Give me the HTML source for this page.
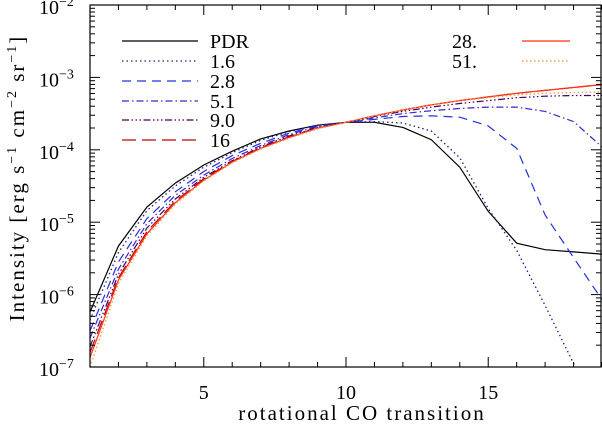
<!DOCTYPE html>
<html><head><meta charset="utf-8"><style>
html,body{margin:0;padding:0;background:#fff;width:602px;height:424px;overflow:hidden}
svg{display:block;font-family:"Liberation Serif",serif}
</style></head><body>
<svg id="chart" width="602" height="424" viewBox="0 0 602 424" xmlns="http://www.w3.org/2000/svg">
<defs><clipPath id="clip"><rect x="90" y="5" width="512" height="362"/></clipPath></defs>
<g id="marks" clip-path="url(#clip)"></g>
<g id="axes"></g>
<g id="legend"></g>
<text x="362" y="420" text-anchor="middle" font-size="21" letter-spacing="2">rotational CO transition</text>
<text transform="translate(24,178) rotate(-90)" text-anchor="middle" font-size="21" letter-spacing="2">Intensity [erg s<tspan dy="-8" font-size="14">−1</tspan><tspan dy="8"> cm</tspan><tspan dy="-8" font-size="14">−2</tspan><tspan dy="8"> sr</tspan><tspan dy="-8" font-size="14">−1</tspan><tspan dy="8">]</tspan></text>
</svg>
<script>
const transitions = [1,2,3,4,5,6,7,8,9,10,11,12,13,14,15,16,17,18,19];
const seriesNames = ["PDR","1.6","2.8","5.1","9.0","16","28.","51."];
const pdr   = [-6.24,-5.33,-4.79,-4.46,-4.21,-4.02,-3.85,-3.74,-3.66,-3.62,-3.62,-3.69,-3.86,-4.24,-4.85,-5.29,-5.38,-5.41,-5.44];
const s1_6  = [-6.35,-5.42,-4.84,-4.50,-4.24,-4.04,-3.87,-3.75,-3.66,-3.62,-3.61,-3.63,-3.74,-4.11,-4.81,-5.39,-6.15,-6.95,-7.7];
const s2_8  = [-6.50,-5.55,-4.95,-4.58,-4.30,-4.08,-3.91,-3.77,-3.67,-3.62,-3.58,-3.54,-3.53,-3.55,-3.67,-3.98,-4.90,-5.49,-6.07];
const s5_1  = [-6.60,-5.65,-5.02,-4.63,-4.35,-4.12,-3.94,-3.79,-3.68,-3.62,-3.56,-3.50,-3.46,-3.43,-3.41,-3.41,-3.47,-3.61,-3.96];
const s9_0  = [-6.72,-5.72,-5.08,-4.68,-4.38,-4.15,-3.96,-3.81,-3.69,-3.62,-3.54,-3.47,-3.41,-3.36,-3.32,-3.28,-3.26,-3.25,-3.25];
const s16   = [-6.80,-5.77,-5.13,-4.71,-4.40,-4.16,-3.97,-3.82,-3.70,-3.62,-3.53,-3.45,-3.38,-3.32,-3.27,-3.22,-3.18,-3.14,-3.10];
const s28   = [-6.87,-5.80,-5.16,-4.73,-4.42,-4.17,-3.98,-3.83,-3.70,-3.62,-3.53,-3.45,-3.38,-3.32,-3.27,-3.22,-3.18,-3.14,-3.10];
const s51   = [-7.00,-5.85,-5.19,-4.75,-4.43,-4.18,-3.99,-3.84,-3.71,-3.62,-3.53,-3.45,-3.38,-3.32,-3.28,-3.24,-3.22,-3.21,-3.20];
const xTickLabels = [5,10,15];
const yTickExps = [-7,-6,-5,-4,-3,-2];

const NS="http://www.w3.org/2000/svg";
const X0=90,X1=602,XMIN=1,XMAX=19,Y0=367,Y1=5,YMIN=-7,YMAX=-2;
const xs=v=>X0+(v-XMIN)/(XMAX-XMIN)*(X1-X0);
const ys=l=>Y0-(l-YMIN)/(YMAX-YMIN)*(Y0-Y1);
function mk(tag,attrs,parent){const e=document.createElementNS(NS,tag);for(const k in attrs)e.setAttribute(k,attrs[k]);parent.appendChild(e);return e;}

const styles=[
 {data:pdr,color:"#000",dash:"",w:1.2,name:"pdr"},
 {data:s1_6,color:"#202090",dash:"1.5 3",w:1.3,name:"1-6"},
 {data:s2_8,color:"#2030e0",dash:"9 6",w:1.2,name:"2-8"},
 {data:s5_1,color:"#4020d0",dash:"7 3 1.5 3",w:1.2,name:"5-1"},
 {data:s9_0,color:"#400060",dash:"7 2.5 1.5 2.5 1.5 2.5 1.5 2.5",w:1.2,name:"9-0"},
 {data:s16,color:"#c00000",dash:"14 6",w:1.2,name:"16"},
 {data:s28,color:"#ff3010",dash:"",w:1.2,name:"28"},
 {data:s51,color:"#ff9a50",dash:"1.5 2.5",w:1.4,name:"51"}
];
const marks=document.getElementById("marks");
styles.forEach(s=>{
  const d=s.data.map((v,i)=>(i?"L":"M")+xs(transitions[i]).toFixed(1)+","+ys(v).toFixed(1)).join(" ");
  const p=mk("path",{d:d,fill:"none",stroke:s.color,"stroke-width":s.w},marks);
  if(s.dash)p.setAttribute("stroke-dasharray",s.dash);
  
  
});

const axes=document.getElementById("axes");
const frame=mk("rect",{x:X0,y:Y1,width:X1-X0-1,height:Y0-Y1,fill:"none",stroke:"#000","stroke-width":1.2},axes);


for(let v=XMIN;v<=XMAX;v++){
  const x=xs(v),big=v%5===0,L=big?10:5;
  mk("line",{x1:x,y1:Y0,x2:x,y2:Y0-L,stroke:"#000","stroke-width":1},axes);
  mk("line",{x1:x,y1:Y1,x2:x,y2:Y1+L,stroke:"#000","stroke-width":1},axes);
}
xTickLabels.forEach(v=>{
  const t=mk("text",{x:xs(v),y:399,"text-anchor":"middle","font-size":20},axes);
  t.textContent=v;
  
  
});
for(let e=YMIN;e<YMAX;e++){
  for(let m=1;m<10;m++){
    const y=ys(e+Math.log10(m)),L=m===1?10:5;
    mk("line",{x1:X0,y1:y,x2:X0+L,y2:y,stroke:"#000","stroke-width":1},axes);
    mk("line",{x1:X1-1,y1:y,x2:X1-1-L,y2:y,stroke:"#000","stroke-width":1},axes);
  }
}
yTickExps.forEach(e=>{
  const y=ys(e);
  const t=mk("text",{x:39,y:y+9,"font-size":20,"text-anchor":"start"},axes);
  t.innerHTML='10<tspan dy="-8" font-size="14">−'+(-e)+'</tspan>';
  
  
});

const legend=document.getElementById("legend");
const legPos=[[122,198,210,41],[122,198,210,61],[122,198,210,81],[122,198,210,101],[122,198,210,120],[122,198,210,140],[522,570,452,41],[522,570,452,61]];
styles.forEach((s,i)=>{
  const [lx1,lx2,tx,y]=legPos[i];
  const g=mk("g",{},legend);
  
  
  const l=mk("line",{x1:lx1,y1:y,x2:lx2,y2:y,stroke:s.color,"stroke-width":s.w},g);
  if(s.dash)l.setAttribute("stroke-dasharray",s.dash);
  const t=mk("text",{x:tx,y:y+7,"font-size":20},g);
  t.textContent=seriesNames[i];
});
</script>
</body></html>
